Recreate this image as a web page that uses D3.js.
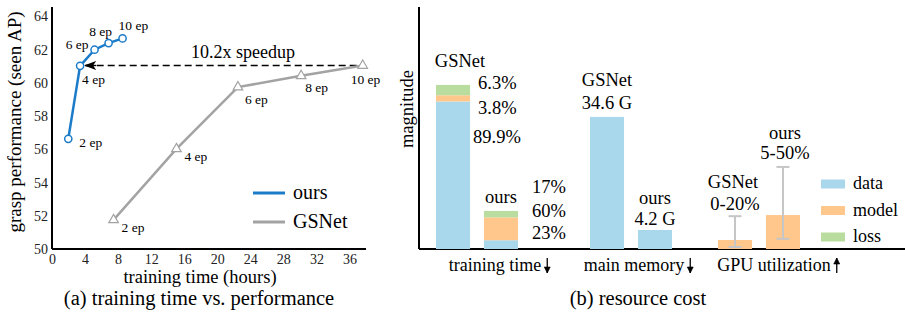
<!DOCTYPE html>
<html>
<head>
<meta charset="utf-8">
<script src="https://cdn.jsdelivr.net/npm/d3@7"></script>
<style>
  body { margin: 0; background: #fff; }
</style>
</head>
<body>
<div id="chart"></div>
<script>
// ---- data: (a) training time vs performance
const epochs = ["2 ep", "4 ep", "6 ep", "8 ep", "10 ep"];
const oursHours = [1.97, 3.4, 5.15, 6.85, 8.54];
const oursAP = [56.63, 61.02, 61.99, 62.39, 62.67];
const gsnetHours = [7.45, 15.06, 22.5, 30.15, 37.6];
const gsnetAP = [51.75, 56.02, 59.74, 60.42, 61.04];
const xTicksA = [0, 4, 8, 12, 16, 20, 24, 28, 32, 36];
const yTicksA = [50, 52, 54, 56, 58, 60, 62, 64];

// ---- data: (b) resource cost
const groups = ["training time", "main memory", "GPU utilization"];
const groupUp = [false, false, true];     // arrow direction
const methods = ["GSNet", "ours"];
const parts = ["data", "model", "loss"];
const trainTotal = [100, 23.2];           // magnitude
const trainShare = [[89.9, 3.8, 6.3], [23, 60, 17]]; // percent of data/model/loss
const memory = [80.5, 11.6];
const memoryText = ["34.6 G", "4.2 G"];
const gpu = [5.5, 20.7];
const gpuRange = [[0, 20], [5, 50]];
const gpuText = ["0-20%", "5-50%"];

const colors = { data: "#a9d8ec", model: "#ffc78c", loss: "#b9dd9e" };
const blue = "#1c7cc9", grey = "#a3a3a3";
const FONT = "Liberation Serif";

const W = 905, H = 312;
const svg = d3.select("#chart").append("svg").attr("width", W).attr("height", H);

// ================= panel (a)
const xA = d3.scaleLinear().domain([0, 38]).range([52, 366]);
const yA = d3.scaleLinear().domain([50, 64.5]).range([249, 8]);
const a = svg.append("g");

a.append("g").attr("transform", `translate(0,${yA(50)})`)
  .call(d3.axisBottom(xA).tickValues(xTicksA).tickSize(0).tickPadding(5))
  .call(g => g.select(".domain").attr("stroke", "#000").attr("stroke-width", 2).attr("d", `M${xA(0)},0H${xA(38)}`))
  .call(g => g.selectAll("text").attr("font-size", 14).attr("fill", "#222"));
a.append("g").attr("transform", `translate(${xA(0)},0)`)
  .call(d3.axisLeft(yA).tickValues(yTicksA).tickSize(0).tickPadding(4))
  .call(g => g.select(".domain").attr("stroke", "#000").attr("stroke-width", 2).attr("d", `M0,${yA(50)}V7`))
  .call(g => g.selectAll("text").attr("font-size", 14).attr("fill", "#222"));

a.append("text").attr("x", 200).attr("y", 283).attr("text-anchor", "middle")
  .attr("font-size", 18.5).text("training time (hours)");
a.append("text").attr("x", 199).attr("y", 305).attr("text-anchor", "middle")
  .attr("font-size", 20.5).text("(a) training time vs. performance");
a.append("text").attr("transform", "translate(21,122) rotate(-90)").attr("text-anchor", "middle")
  .attr("font-size", 19).text("grasp performance (seen AP)");

const line = d3.line().x(d => xA(d[0])).y(d => yA(d[1]));
const oursPts = oursHours.map((h, i) => [h, oursAP[i]]);
const gsPts = gsnetHours.map((h, i) => [h, gsnetAP[i]]);

// speedup arrow
const ay = yA(gsnetAP[4]);
a.append("defs").append("marker").attr("id", "ah").attr("viewBox", "0 0 12 10")
  .attr("refX", 11).attr("refY", 5).attr("markerWidth", 12).attr("markerHeight", 10)
  .attr("markerUnits", "userSpaceOnUse").attr("orient", "auto")
  .append("path").attr("d", "M0,0.5L12,5L0,9.5L3,5Z").attr("fill", "#000");
a.append("line").attr("x1", xA(gsnetHours[4]) - 6).attr("x2", xA(oursHours[1]) + 5)
  .attr("y1", ay).attr("y2", ay).attr("stroke", "#000").attr("stroke-width", 1.4)
  .attr("stroke-dasharray", "7,4");
a.append("line").attr("x1", xA(oursHours[1]) + 16).attr("x2", xA(oursHours[1]) + 5)
  .attr("y1", ay).attr("y2", ay).attr("stroke", "#000").attr("stroke-width", 1.4)
  .attr("marker-end", "url(#ah)");
a.append("text").attr("x", 243).attr("y", 58).attr("text-anchor", "middle")
  .attr("font-size", 18).text("10.2x speedup");

a.append("path").datum(gsPts).attr("d", line).attr("fill", "none")
  .attr("stroke", grey).attr("stroke-width", 2.5);
a.append("path").datum(oursPts).attr("d", line).attr("fill", "none")
  .attr("stroke", blue).attr("stroke-width", 2.5);

a.selectAll(".tri").data(gsPts).join("path")
  .attr("transform", d => `translate(${xA(d[0])},${yA(d[1])})`)
  .attr("d", d3.symbol(d3.symbolTriangle, 40))
  .attr("fill", "#fff").attr("stroke", grey).attr("stroke-width", 1.2);
a.selectAll(".circ").data(oursPts).join("circle")
  .attr("cx", d => xA(d[0])).attr("cy", d => yA(d[1])).attr("r", 3.6)
  .attr("fill", "#fff").attr("stroke", blue).attr("stroke-width", 1.5);

// epoch labels: [dx, dy, anchor]
const oursLab = [[11, 8, "start"], [2, 18, "start"], [-6, -1, "end"], [-8, -7, "middle"], [-4, -8, "start"]];
const gsLab = [[8, 12, "start"], [8, 12, "start"], [7, 17, "start"], [4, 16, "start"], [-12, 18, "start"]];
a.selectAll(".lo").data(oursPts).join("text")
  .attr("x", (d, i) => xA(d[0]) + oursLab[i][0]).attr("y", (d, i) => yA(d[1]) + oursLab[i][1])
  .attr("text-anchor", (d, i) => oursLab[i][2]).attr("font-size", 13.5).text((d, i) => epochs[i]);
a.selectAll(".lg").data(gsPts).join("text")
  .attr("x", (d, i) => xA(d[0]) + gsLab[i][0]).attr("y", (d, i) => yA(d[1]) + gsLab[i][1])
  .attr("text-anchor", (d, i) => gsLab[i][2]).attr("font-size", 13.5).text((d, i) => epochs[i]);

// legend
[["ours", blue], ["GSNet", grey]].forEach(([t, c], i) => {
  const y = 193 + i * 29;
  a.append("line").attr("x1", 253).attr("x2", 285).attr("y1", y).attr("y2", y)
    .attr("stroke", c).attr("stroke-width", 3);
  a.append("text").attr("x", 293).attr("y", y + 6).attr("font-size", 20).text(t);
});

// ================= panel (b)
const b = svg.append("g");
const base = 249;
const yB = d3.scaleLinear().domain([0, 147.5]).range([base, 7]);
// group centres are not evenly spaced in the original
const xG = d3.scaleOrdinal().domain(groups).range([477, 631, 759]);
const xM = d3.scaleBand().domain(methods).range([0, 82]).paddingInner(0.29);
const gx = g => xG(g) - 41;
const bw = xM.bandwidth();

b.append("line").attr("x1", 419).attr("x2", 419).attr("y1", 7).attr("y2", base)
  .attr("stroke", "#000").attr("stroke-width", 2);
b.append("line").attr("x1", 419).attr("x2", W).attr("y1", base).attr("y2", base)
  .attr("stroke", "#000").attr("stroke-width", 2);
b.append("text").attr("transform", "translate(413,109) rotate(-90)").attr("text-anchor", "middle")
  .attr("font-size", 18.5).text("magnitude");

// training time stacks
methods.forEach((m, mi) => {
  let acc = 0;
  parts.forEach((p, pi) => {
    const v = trainTotal[mi] * trainShare[mi][pi] / 100;
    b.append("rect").attr("x", gx(groups[0]) + xM(m)).attr("width", bw)
      .attr("y", yB(acc + v)).attr("height", yB(acc) - yB(acc + v)).attr("fill", colors[p]);
    acc += v;
  });
});
// memory
methods.forEach((m, mi) => {
  b.append("rect").attr("x", gx(groups[1]) + xM(m)).attr("width", bw)
    .attr("y", yB(memory[mi])).attr("height", base - yB(memory[mi])).attr("fill", colors.data);
});
// GPU
methods.forEach((m, mi) => {
  const x0 = gx(groups[2]) + xM(m);
  b.append("rect").attr("x", x0).attr("width", bw)
    .attr("y", yB(gpu[mi])).attr("height", base - yB(gpu[mi])).attr("fill", colors.model);
  const cx = x0 + bw / 2, lo = yB(gpuRange[mi][0]) - 2, hi = yB(gpuRange[mi][1]);
  const eb = b.append("g").attr("stroke", "#c6c6c6").attr("stroke-width", 2);
  eb.append("line").attr("x1", cx).attr("x2", cx).attr("y1", lo).attr("y2", hi);
  eb.append("line").attr("x1", cx - 6.5).attr("x2", cx + 6.5).attr("y1", lo).attr("y2", lo);
  eb.append("line").attr("x1", cx - 6.5).attr("x2", cx + 6.5).attr("y1", hi).attr("y2", hi);
});

const fs = 18.5;
const txt = (x, y, t, anchor) => b.append("text").attr("x", x).attr("y", y)
  .attr("text-anchor", anchor || "middle").attr("font-size", fs).text(t);

// training time labels
const tG = gx(groups[0]) + xM("GSNet"), tO = gx(groups[0]) + xM("ours");
{
  let acc = 0;
  const tops = trainShare[0].map(s => (acc += trainTotal[0] * s / 100));
  txt(tG + bw / 2 + 7, yB(tops[2]) - 18, "GSNet");
  txt(tG + bw + 8, yB(tops[2]) + 4, trainShare[0][2] + "%", "start");
  txt(tG + bw + 8, yB(tops[1]) + 19, trainShare[0][1] + "%", "start");
  txt(tG + bw + 3, yB(tops[0]) + 41, trainShare[0][0] + "%", "start");
}
{
  const top = yB(trainTotal[1]);
  txt(tO + bw / 2, top - 8, "ours");
  txt(tO + bw + 14, top - 18, trainShare[1][2] + "%", "start");
  txt(tO + bw + 14, top + 6, trainShare[1][1] + "%", "start");
  txt(tO + bw + 14, top + 28, trainShare[1][0] + "%", "start");
}

// memory labels
const memOff = [[-31, -8], [-26, -5]];
methods.forEach((m, mi) => {
  const cx = gx(groups[1]) + xM(m) + bw / 2;
  const top = yB(memory[mi]);
  txt(cx, top + memOff[mi][0], m);
  txt(cx, top + memOff[mi][1], memoryText[mi]);
});
// GPU labels
methods.forEach((m, mi) => {
  const cx = gx(groups[2]) + xM(m) + bw / 2;
  const hi = yB(gpuRange[mi][1]);
  txt(cx + (mi ? 2 : -2), hi - 28, m);
  txt(cx + (mi ? 2 : 0), hi - (mi ? 8 : 6), gpuText[mi]);
});

b.append("text").attr("x", 638).attr("y", 305).attr("text-anchor", "middle")
  .attr("font-size", 20.5).text("(b) resource cost");

// legend
parts.forEach((p, i) => {
  const y = 184 + i * 26.5;
  b.append("rect").attr("x", 821).attr("y", y - 4.5).attr("width", 24).attr("height", 9).attr("fill", colors[p]);
  b.append("text").attr("x", 853).attr("y", y + 5).attr("font-size", 18).text(p);
});

// group labels with drawn arrows
const groupDx = [18, 3, 15];
const groupText = groups.map((g, i) => b.append("text")
  .attr("x", xG(g) + groupDx[i]).attr("y", 271)
  .attr("text-anchor", "middle").attr("font-size", 18).text(g));

// serif font on every text element
svg.selectAll("text").attr("font-family", FONT).style("font-family", FONT);

groupText.forEach((t, i) => {
  const cx = +t.attr("x");
  const ax = cx + t.node().getComputedTextLength() / 2 + 6;
  const y0 = 258, y1 = 273;
  b.append("line").attr("x1", ax).attr("x2", ax).attr("y1", y0).attr("y2", y1)
    .attr("stroke", "#000").attr("stroke-width", 1.3);
  const tip = groupUp[i] ? y0 : y1, d = groupUp[i] ? 6 : -6;
  b.append("path").attr("d", `M${ax - 3},${tip + d}L${ax},${tip}L${ax + 3},${tip + d}Z`)
    .attr("fill", "#000").attr("stroke", "#000").attr("stroke-width", 0.6);
});
</script>
</body>
</html>
